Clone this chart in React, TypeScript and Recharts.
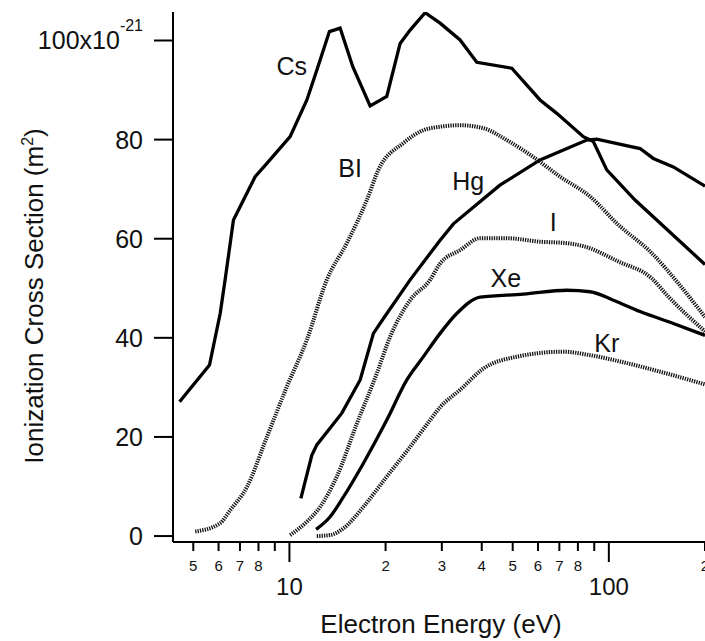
import React from 'react';
import { LineChart, Line, XAxis, YAxis, ReferenceDot } from 'recharts';

// Electron energy (eV) and ionization cross section (x10^-21 m^2)
const csEnergy = [4.53, 5.62, 6.07, 6.29, 6.68, 7.81, 8.5, 10.05, 11.34, 12.18, 13.34, 14.41, 15.79, 17.89, 20.17, 22.21, 23.87, 26.59, 29.63, 34.22, 38.6, 49.67, 60.91, 68.7, 83.2, 89.4, 98.5, 120.8, 200];
const csSigma = [27.1, 34.5, 44.9, 51.7, 63.8, 72.5, 75.2, 80.6, 88.0, 94.0, 101.8, 102.5, 94.7, 86.8, 88.7, 99.4, 102.1, 105.6, 103.5, 100.1, 95.6, 94.4, 88.0, 85.3, 80.6, 79.6, 73.9, 67.8, 54.8];

const hgEnergy = [10.86, 11.75, 12.18, 14.59, 16.65, 18.32, 19.69, 23.87, 29.63, 32.61, 45.6, 60.9, 85.3, 91.6, 125.2, 137.8, 159.2, 200];
const hgSigma = [7.6, 16.3, 18.4, 24.8, 31.5, 40.9, 43.9, 51.7, 59.7, 63.0, 70.8, 75.9, 79.9, 80.1, 78.2, 76.2, 74.5, 70.6];

const biEnergy = [5.07, 6.07, 6.52, 7.36, 8.5, 9.81, 11.34, 13.09, 15.12, 17.47, 18.99, 22.74, 26.27, 29.63, 34.22, 40.48, 47.9, 58.0, 70.4, 87.4, 107.1, 136.2, 165.0, 200];
const biSigma = [0.9, 2.6, 5.2, 9.9, 20.0, 30.1, 39.6, 51.7, 59.1, 67.8, 73.9, 79.3, 81.9, 82.6, 82.9, 82.3, 79.9, 76.5, 72.5, 68.5, 62.8, 57.1, 51.0, 44.2];

const iEnergy = [10.05, 11.34, 12.48, 14.07, 16.26, 18.77, 20.66, 23.87, 27.57, 29.63, 34.22, 39.54, 47.9, 60.9, 73.8, 84.2, 107.1, 136.2, 153.6, 200];
const iSigma = [0.2, 2.9, 5.9, 12.0, 22.7, 32.8, 40.2, 47.6, 51.7, 55.0, 57.7, 60.1, 60.1, 59.4, 59.1, 58.4, 55.4, 52.0, 48.3, 41.3];

const xeEnergy = [12.12, 13.41, 14.76, 17.05, 20.17, 23.31, 26.27, 29.63, 33.41, 39.54, 54.0, 73.8, 87.4, 103.3, 125.2, 159.2, 200];
const xeSigma = [1.35, 3.9, 7.9, 14.7, 23.4, 31.5, 36.2, 40.9, 44.9, 48.2, 48.8, 49.6, 49.3, 47.6, 45.3, 42.9, 40.5];

const krEnergy = [12.18, 13.41, 14.76, 17.05, 20.17, 23.87, 27.57, 29.63, 34.22, 40.48, 51.5, 72.05, 87.4, 113.8, 151.8, 200];
const krSigma = [0.0, 0.2, 1.55, 5.9, 12.0, 18.0, 23.4, 26.0, 29.5, 33.8, 36.2, 37.2, 36.5, 34.9, 32.8, 30.6];

const xTicks = [5, 6, 7, 8, 9, 10, 20, 30, 40, 50, 60, 70, 80, 90, 100, 200];
const xTickLabels = ['5', '6', '7', '8', '', '10', '2', '3', '4', '5', '6', '7', '8', '', '100', '2'];
const xMajorTicks = [10, 100];
const yTicks = [0, 20, 40, 60, 80, 100];

const annotationTexts = ['Cs', 'BI', 'Hg', 'I', 'Xe', 'Kr'];
const annotationEnergy = [10.17, 15.49, 36.3, 67.0, 47.6, 98.5];
const annotationSigma = [94.9, 74.3, 71.6, 63.3, 52.1, 39.05];

const zip = (xs: number[], ys: number[]) => xs.map((x, i) => ({ x, y: ys[i] }));

const FONT = '"Liberation Sans", Arial, Helvetica, sans-serif';

const XTick = (props: any) => {
  const { x, y, payload } = props;
  const v = payload.value;
  const idx = xTicks.indexOf(v);
  const label = xTickLabels[idx];
  const major = xMajorTicks.includes(v);
  return (
    <g>
      <line x1={x} x2={x} y1={y} y2={y + (major ? 20 : 9)} stroke="#000" strokeWidth={2} />
      {major ? (
        <text x={x} y={y + 53} textAnchor="middle" fontSize={24} fontFamily={FONT} fill="#111">{label}</text>
      ) : label ? (
        <text x={x} y={y + 29} textAnchor="middle" fontSize={15} fontFamily={FONT} fill="#111">{label}</text>
      ) : null}
    </g>
  );
};

const YTick = (props: any) => {
  const { x, y, payload } = props;
  const v = payload.value;
  if (v === 100) {
    return (
      <text x={x} y={y + 9} textAnchor="end" fontSize={25} fontFamily={FONT} fill="#111">
        <tspan>100x10</tspan>
        <tspan dy={-18} fontSize={16}>-21</tspan>
      </text>
    );
  }
  return (
    <text x={x} y={y + 9} textAnchor="end" fontSize={25} fontFamily={FONT} fill="#111">{v}</text>
  );
};

const XTitle = (props: any) => {
  const vb = props.viewBox;
  return (
    <text x={vb.x + vb.width / 2 + 2} y={vb.y + 91} textAnchor="middle" fontSize={26} fontFamily={FONT} fill="#111">
      Electron Energy (eV)
    </text>
  );
};

const YTitle = (props: any) => {
  const vb = props.viewBox;
  const cx = vb.x + 43;
  const cy = vb.y + vb.height / 2 + 19;
  return (
    <text x={cx} y={cy} transform={`rotate(-90, ${cx}, ${cy})`} textAnchor="middle" fontSize={26} fontFamily={FONT} fill="#111">
      <tspan>Ionization Cross Section (m</tspan>
      <tspan dy={-10} fontSize={16}>2</tspan>
      <tspan dy={10}>)</tspan>
    </text>
  );
};

const solid = { stroke: '#000', strokeWidth: 3.3 };
const dotted = { stroke: '#111', strokeWidth: 4, strokeDasharray: '1.3 1.1' };

export default function App() {
  return (
    <div style={{ position: 'absolute', left: 0, top: 0, background: '#fff' }}>
      <LineChart width={705} height={641} margin={{ top: 12, right: 0, bottom: 0, left: 0 }}>
        <XAxis
          dataKey="x"
          type="number"
          scale="log"
          domain={[4.32, 200]}
          allowDataOverflow
          ticks={xTicks}
          interval={0}
          tickSize={0}
          tickMargin={0}
          tickLine={false}
          tick={<XTick />}
          axisLine={{ stroke: '#000', strokeWidth: 2 }}
          height={99}
          label={<XTitle />}
        />
        <YAxis
          type="number"
          domain={[-1.2, 105.75]}
          allowDataOverflow
          ticks={yTicks}
          interval={0}
          tickSize={19}
          tickMargin={11}
          tickLine={{ stroke: '#000', strokeWidth: 2 }}
          tick={<YTick />}
          axisLine={{ stroke: '#000', strokeWidth: 2 }}
          width={173}
          label={<YTitle />}
        />
        <Line data={zip(csEnergy, csSigma)} dataKey="y" type="linear" dot={false} isAnimationActive={false} {...solid} />
        <Line data={zip(hgEnergy, hgSigma)} dataKey="y" type="linear" dot={false} isAnimationActive={false} {...solid} />
        <Line data={zip(xeEnergy, xeSigma)} dataKey="y" type="monotone" dot={false} isAnimationActive={false} {...solid} />
        <Line data={zip(biEnergy, biSigma)} dataKey="y" type="monotone" dot={false} isAnimationActive={false} {...dotted} />
        <Line data={zip(iEnergy, iSigma)} dataKey="y" type="monotone" dot={false} isAnimationActive={false} {...dotted} />
        <Line data={zip(krEnergy, krSigma)} dataKey="y" type="monotone" dot={false} isAnimationActive={false} {...dotted} />
        {annotationTexts.map((t, i) => (
          <ReferenceDot
            key={t}
            x={annotationEnergy[i]}
            y={annotationSigma[i]}
            r={0}
            ifOverflow="visible"
            shape={(p: any) => (
              <text x={p.cx} y={p.cy + 9} textAnchor="middle" fontSize={25} fontFamily={FONT} fill="#111">{t}</text>
            )}
          />
        ))}
      </LineChart>
    </div>
  );
}
